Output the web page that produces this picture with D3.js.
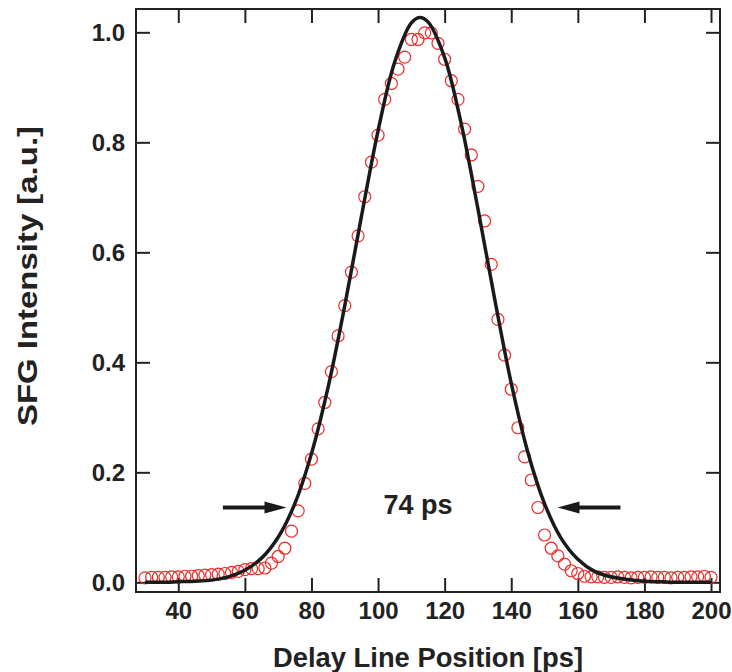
<!DOCTYPE html>
<html>
<head>
<meta charset="utf-8">
<script src="https://cdn.jsdelivr.net/npm/d3@7"></script>
<style>
  body { margin: 0; background: #fff; }
  text { font-family: "Liberation Sans", Arial, sans-serif; font-weight: bold; fill: #222; }
</style>
</head>
<body>
<div class="canvas"></div>
<script>
// measured delay positions [ps] and SFG intensity
const delay = [30, 32, 34, 36, 38, 40, 42, 44, 46, 48, 50, 52, 54, 56, 58, 60, 62, 64, 66, 68,
  70, 72, 74, 76, 78, 80, 82, 84, 86, 88, 90, 92, 94, 96, 98, 100, 102, 104, 106, 108,
  110, 112, 114, 116, 118, 120, 122, 124, 126, 128, 130, 132, 134, 136, 138, 140, 142, 144, 146, 148,
  150, 152, 154, 156, 158, 160, 162, 164, 166, 168, 170, 172, 174, 176, 178, 180, 182, 184, 186, 188,
  190, 192, 194, 196, 198, 200];
const intensity = [0.008, 0.009, 0.009, 0.009, 0.010, 0.010, 0.011, 0.011, 0.012, 0.013, 0.014, 0.015, 0.016, 0.018, 0.020, 0.023, 0.025, 0.025, 0.026, 0.035,
  0.047, 0.062, 0.093, 0.130, 0.180, 0.224, 0.279, 0.327, 0.383, 0.448, 0.503, 0.564, 0.630, 0.701, 0.764, 0.813, 0.878, 0.907, 0.933, 0.955,
  0.987, 0.987, 0.999, 0.999, 0.980, 0.951, 0.912, 0.878, 0.824, 0.777, 0.720, 0.657, 0.578, 0.478, 0.413, 0.351, 0.281, 0.228, 0.186, 0.136,
  0.086, 0.062, 0.048, 0.033, 0.021, 0.016, 0.011, 0.010, 0.010, 0.009, 0.009, 0.010, 0.009, 0.008, 0.009, 0.009, 0.010, 0.009, 0.009, 0.008,
  0.009, 0.009, 0.010, 0.010, 0.011, 0.009];

// fit curve
const fitX = [30, 35, 40, 45, 50, 55, 60, 65, 70, 75, 80, 85, 90, 95, 100, 105, 110, 112.5,
  115, 120, 125, 130, 135, 140, 145, 150, 155, 160, 165, 170, 175, 180, 185, 190, 195, 200];
const fitY = [0.000, 0.000, 0.001, 0.002, 0.004, 0.010, 0.022, 0.044, 0.082, 0.143, 0.234, 0.355, 0.503, 0.665, 0.821, 0.946, 1.017, 1.027,
  1.019, 0.954, 0.833, 0.679, 0.516, 0.362, 0.236, 0.143, 0.080, 0.042, 0.020, 0.010, 0.005, 0.002, 0.001, 0.000, 0.000, 0.000];

const xTicks = [40, 60, 80, 100, 120, 140, 160, 180, 200];
const yTicks = [0.0, 0.2, 0.4, 0.6, 0.8, 1.0];

// FWHM annotation
const arrowY = 0.136;
const leftArrow = [53.4, 72.5];   // tail, tip
const rightArrow = [172.8, 153.9];
const widthLabel = { x: 112, y: 0.125, text: '74 ps' };

const W = 732, H = 672;
const margin = { top: 9, right: 12, bottom: 80, left: 136 };
const graphWidth = W - margin.left - margin.right;
const graphHeight = H - margin.top - margin.bottom;

const svg = d3.select('.canvas').append('svg')
    .attr('width', W)
    .attr('height', H);

const graph = svg.append('g')
    .attr('transform', `translate(${margin.left}, ${margin.top})`);

const x = d3.scaleLinear().domain([27.3, 202.7]).range([0, graphWidth]);
const y = d3.scaleLinear().domain([-0.0176, 1.0424]).range([graphHeight, 0]);

// axes, ticks point inward
const xAxisGroup = graph.append('g')
    .attr('transform', `translate(0, ${graphHeight})`)
    .call(d3.axisBottom(x).tickValues(xTicks).tickSize(-14).tickPadding(10).tickFormat(d3.format('d')));
const yAxisGroup = graph.append('g')
    .call(d3.axisLeft(y).tickValues(yTicks).tickSize(-14).tickPadding(11).tickFormat(d3.format('.1f')));
graph.append('g')
    .call(d3.axisTop(x).tickValues(xTicks).tickSize(-14).tickFormat(''));
graph.append('g')
    .attr('transform', `translate(${graphWidth}, 0)`)
    .call(d3.axisRight(y).tickValues(yTicks).tickSize(-14).tickFormat(''));

graph.selectAll('.domain').remove();
graph.selectAll('.tick line').attr('stroke', '#222').attr('stroke-width', 2);
graph.selectAll('.tick text').attr('font-size', 24).attr('fill', '#222')
    .style('font-family', '"Liberation Sans", Arial, sans-serif').style('font-weight', 'bold');

graph.append('rect')
    .attr('width', graphWidth)
    .attr('height', graphHeight)
    .attr('fill', 'none')
    .attr('stroke', '#222')
    .attr('stroke-width', 2);

// data points
graph.selectAll('circle')
    .data(delay)
    .enter()
    .append('circle')
    .attr('cx', d => x(d))
    .attr('cy', (d, i) => y(intensity[i]))
    .attr('r', 6)
    .attr('fill', 'none')
    .attr('stroke', '#ee2a2a')
    .attr('stroke-width', 1.2);

// fit
const line = d3.line()
    .x((d, i) => x(fitX[i]))
    .y(d => y(d))
    .curve(d3.curveCatmullRom);

graph.append('path')
    .attr('d', line(fitY))
    .attr('fill', 'none')
    .attr('stroke', '#1a1a1a')
    .attr('stroke-width', 3.5);

// arrows
const drawArrow = (tail, tip) => {
    const dir = Math.sign(x(tip) - x(tail));
    const headLen = 22, headHalf = 6;
    const ay = y(arrowY);
    graph.append('line')
        .attr('x1', x(tail)).attr('y1', ay)
        .attr('x2', x(tip) - dir * headLen + dir * 2).attr('y2', ay)
        .attr('stroke', '#1a1a1a')
        .attr('stroke-width', 4);
    graph.append('path')
        .attr('d', `M${x(tip)},${ay} L${x(tip) - dir * headLen},${ay - headHalf} L${x(tip) - dir * headLen},${ay + headHalf} Z`)
        .attr('fill', '#1a1a1a');
};
drawArrow(leftArrow[0], leftArrow[1]);
drawArrow(rightArrow[0], rightArrow[1]);

graph.append('text')
    .attr('x', x(widthLabel.x))
    .attr('y', y(widthLabel.y))
    .attr('text-anchor', 'middle')
    .attr('font-size', 27)
    .text(widthLabel.text);

// axis titles
svg.append('text')
    .attr('x', margin.left + graphWidth / 2)
    .attr('y', 667)
    .attr('text-anchor', 'middle')
    .attr('font-size', 27)
    .attr('textLength', 310)
    .attr('lengthAdjust', 'spacingAndGlyphs')
    .text('Delay Line Position [ps]');

svg.append('text')
    .attr('transform', 'translate(37, 276) rotate(-90)')
    .attr('text-anchor', 'middle')
    .attr('font-size', 28)
    .attr('textLength', 300)
    .attr('lengthAdjust', 'spacingAndGlyphs')
    .text('SFG Intensity [a.u.]');
</script>
</body>
</html>
